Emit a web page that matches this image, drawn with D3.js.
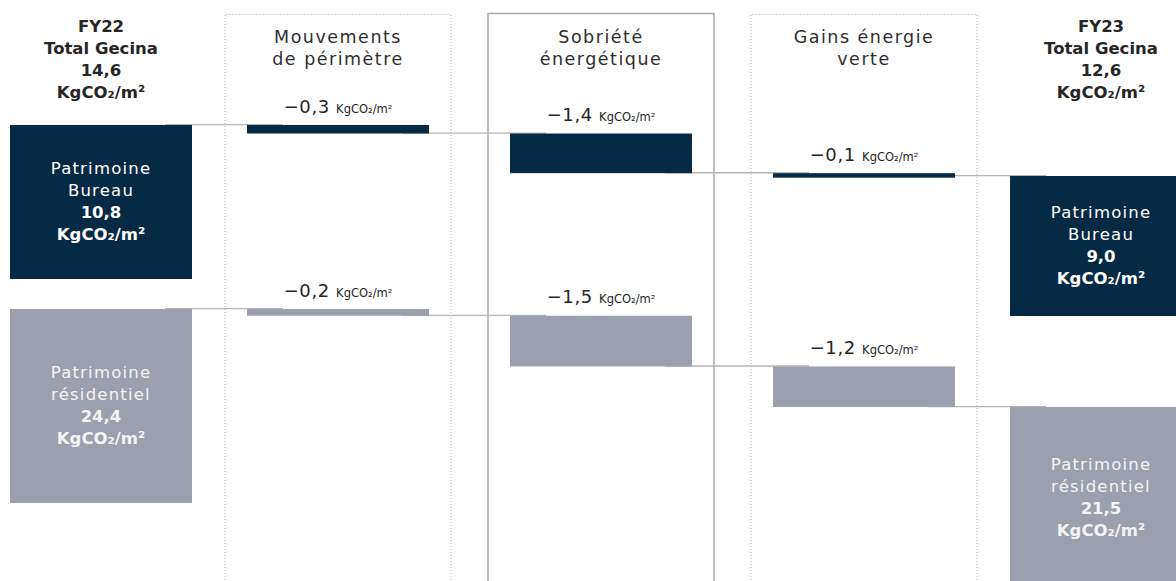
<!DOCTYPE html>
<html><head><meta charset="utf-8">
<script src="https://cdn.jsdelivr.net/npm/d3@7"></script>
<style>
body{margin:0;background:#fff}
svg{display:block}
text{font-family:"DejaVu Sans",sans-serif}
</style>
</head><body>
<svg id="c" width="1176" height="581"></svg>
<script>
// ---------- DATA ----------
const steps = [["Mouvements", "de périmètre"], ["Sobriété", "énergétique"], ["Gains énergie", "verte"]];
const years = ["FY22", "FY23"];
const totalGecina = [14.6, 12.6];
const seriesNames = [["Patrimoine", "Bureau"], ["Patrimoine", "résidentiel"]];
const bureauStart = 10.8;
const bureauDeltas = [-0.3, -1.4, -0.1];
const bureauEnd = 9.0;
const resStart = 24.4;
const resDeltas = [-0.2, -1.5, -1.2];
const resEnd = 21.5;
const unit = "KgCO₂/m²";

// ---------- SETUP ----------
const fr = d3.formatLocale({decimal: ",", thousands: " ", grouping: [3], currency: ["", " €"], minus: "−"});
const f1 = fr.format(".1f");
const svg = d3.select("#c");
const W = 1176, H = 581;
const NAVY = "#062a43", GREY = "#9c9fad", LINE = "#b4b4b4", TXT = "#262626";

// column centres: FY22, 3 steps, FY23
const x = d3.scaleLinear().domain([0, 1, 3, 4]).range([101, 338, 864, 1101]);
const barW = 182, boxW = 226;

const series = [
  {name: seriesNames[0], start: bureauStart, deltas: bureauDeltas, end: bureauEnd, color: NAVY, txt: "#ffffff",
   y: d3.scaleLinear().domain([bureauStart, bureauEnd]).range([125, 176]),
   h: d3.scaleLinear().domain([bureauEnd, bureauStart]).range([140, 154])},
  {name: seriesNames[1], start: resStart, deltas: resDeltas, end: resEnd, color: GREY, txt: "#f4f4f6",
   y: d3.scaleLinear().domain([resStart, resEnd]).range([309, 407]),
   h: d3.scaleLinear().domain([resEnd, resStart]).range([181, 194])}
];

// ---------- STEP BOXES ----------
steps.forEach((s, i) => {
  const cx = x(i + 1), x0 = cx - boxW / 2, x1 = cx + boxW / 2;
  const solid = i === 1;
  const top = solid ? 13.5 : 14.5;
  svg.append("path")
    .attr("d", `M${x0},${H + 2}V${top}H${x1}V${H + 2}`)
    .attr("fill", "none")
    .attr("stroke", solid ? "#a9a9a9" : "#b0b0b0")
    .attr("stroke-width", solid ? 1.5 : 1)
    .attr("stroke-dasharray", solid ? null : "1,2");
  const t = svg.append("text").attr("text-anchor", "middle").attr("fill", "#2e2e2e")
    .attr("font-size", 17.5).attr("letter-spacing", 1.5);
  s.forEach((line, j) => t.append("tspan").attr("x", cx).attr("y", 43 + 22 * j).text(line));
});

// ---------- YEAR HEADERS ----------
years.forEach((yr, k) => {
  const cx = x(k === 0 ? 0 : 4);
  const t = svg.append("text").attr("text-anchor", "middle").attr("fill", TXT)
    .attr("font-size", 16.5).attr("font-weight", "bold");
  [yr, "Total Gecina", f1(totalGecina[k]), unit].forEach((line, j) =>
    t.append("tspan").attr("x", cx).attr("y", 32 + 22 * j).text(line));
});

// ---------- WATERFALL ----------
series.forEach(s => {
  const levels = [s.start];
  s.deltas.forEach(d => levels.push(+(levels[levels.length - 1] + d).toFixed(1)));

  // connectors (drawn under the bars)
  for (let i = 0; i < 4; i++) {
    const yl = s.y(levels[i]) - 0.4;
    const xa = x(i) - barW / 2 + 155, xb = x(i + 1) - barW / 2 + 36;
    svg.append("line").attr("x1", xa).attr("x2", xb).attr("y1", yl).attr("y2", yl)
      .attr("stroke", LINE).attr("stroke-width", 1.4);
  }

  // total bars
  [[0, s.start], [4, s.end]].forEach(([col, v]) => {
    const top = s.y(v), hh = s.h(v), cx = x(col);
    svg.append("rect").attr("x", cx - barW / 2).attr("y", top).attr("width", barW).attr("height", hh)
      .attr("fill", s.color);
    const mid = top + hh / 2;
    const t = svg.append("text").attr("text-anchor", "middle").attr("fill", s.txt).attr("font-size", 16.5);
    [s.name[0], s.name[1], f1(v), unit].forEach((line, j) =>
      t.append("tspan").attr("x", cx).attr("y", mid - 28 + 22 * j)
        .attr("font-weight", j >= 2 ? "bold" : "normal").attr("letter-spacing", j >= 2 ? 0 : 1.2).text(line));
  });

  // delta bars
  s.deltas.forEach((d, i) => {
    const cx = x(i + 1);
    const y0 = s.y(levels[i]), y1 = s.y(levels[i + 1]);
    svg.append("rect").attr("x", cx - barW / 2).attr("y", y0).attr("width", barW)
      .attr("height", Math.max(y1 - y0, 4.5)).attr("fill", s.color);
    const t = svg.append("text").attr("x", cx).attr("y", y0 - 12.5).attr("text-anchor", "middle").attr("fill", TXT);
    t.append("tspan").attr("font-size", 18).attr("letter-spacing", 0.6).text(f1(d) + " ");
    t.append("tspan").attr("font-size", 11.5).text(unit);
  });
});
</script>
</body></html>
